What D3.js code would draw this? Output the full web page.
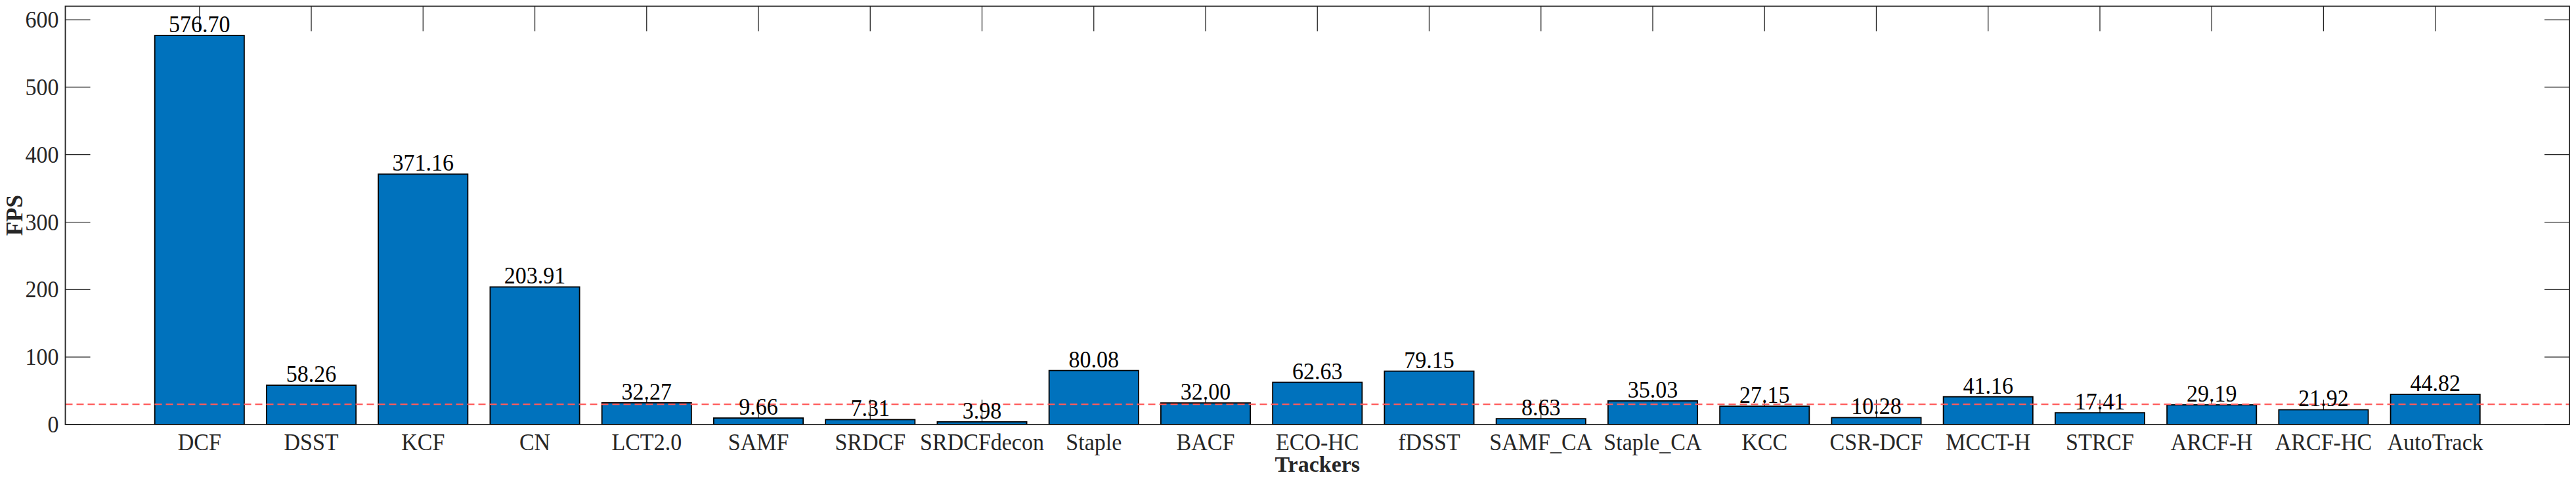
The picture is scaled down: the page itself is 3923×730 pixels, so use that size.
<!DOCTYPE html>
<html>
<head>
<meta charset="utf-8">
<script src="https://cdn.jsdelivr.net/npm/d3@7"></script>
<style>
  html, body { margin: 0; padding: 0; background: #fff; }
  svg { display: block; }
  text { font-family: "Liberation Serif", "Times New Roman", serif; }
</style>
</head>
<body>
<svg id="chart" width="3923" height="730"></svg>
<script>
const trackers = ["DCF","DSST","KCF","CN","LCT2.0","SAMF","SRDCF","SRDCFdecon","Staple","BACF","ECO-HC","fDSST","SAMF_CA","Staple_CA","KCC","CSR-DCF","MCCT-H","STRCF","ARCF-H","ARCF-HC","AutoTrack"];
const fps = [576.70,58.26,371.16,203.91,32.27,9.66,7.31,3.98,80.08,32.00,62.63,79.15,8.63,35.03,27.15,10.28,41.16,17.41,29.19,21.92,44.82];
const yTicks = [0,100,200,300,400,500,600];
const realTimeLine = 30;
const yMax = 620;

const W = 3923, H = 730;
const m = {left: 99.5, right: 3913, top: 9.5, bottom: 647};
const svg = d3.select("#chart");
svg.append("rect").attr("width", W).attr("height", H).attr("fill", "#fff");

const x = d3.scaleLinear().domain([-0.2, trackers.length + 1.2]).range([m.left, m.right]);
const y = d3.scaleLinear().domain([0, yMax]).range([m.bottom, m.top]);
const barW = 0.8;
const tickLen = 38;
const axisColor = "#262626";
const fs = 34;
const sy = 1.05;

function stretched(sel, xf, yf) {
  return sel.attr("transform", (d, i) => `translate(${xf(d, i)},${yf(d, i)}) scale(1,${sy})`);
}

const g = svg.append("g");

// ticks (under the bars)
const ticksG = g.append("g").attr("stroke", axisColor).attr("stroke-width", 1.3);
trackers.forEach((t, i) => {
  const xx = x(i + 1);
  ticksG.append("line").attr("x1", xx).attr("x2", xx).attr("y1", m.bottom).attr("y2", m.bottom - tickLen);
  ticksG.append("line").attr("x1", xx).attr("x2", xx).attr("y1", m.top).attr("y2", m.top + tickLen);
});
yTicks.forEach(v => {
  const yy = y(v);
  ticksG.append("line").attr("x1", m.left).attr("x2", m.left + tickLen).attr("y1", yy).attr("y2", yy);
  ticksG.append("line").attr("x1", m.right).attr("x2", m.right - tickLen).attr("y1", yy).attr("y2", yy);
});

// bars
g.append("g").selectAll("rect").data(fps).join("rect")
  .attr("x", (d, i) => x(i + 1 - barW / 2))
  .attr("width", (d, i) => x(i + 1 + barW / 2) - x(i + 1 - barW / 2))
  .attr("y", d => y(d))
  .attr("height", d => y(0) - y(d))
  .attr("fill", "#0072BD")
  .attr("stroke", "#000")
  .attr("stroke-width", 1.8);

// dashed real-time line
g.append("line")
  .attr("x1", m.left).attr("x2", m.right)
  .attr("y1", y(realTimeLine)).attr("y2", y(realTimeLine))
  .attr("stroke", "rgb(255,90,90)").attr("stroke-width", 2.4)
  .attr("stroke-dasharray", "11,6");

// value labels
stretched(g.append("g").selectAll("text").data(fps).join("text"),
  (d, i) => x(i + 1), d => y(d) - 5)
  .attr("text-anchor", "middle")
  .attr("font-size", fs)
  .attr("fill", "#000")
  .text(d => d.toFixed(2));

// box
g.append("rect")
  .attr("x", m.left).attr("y", m.top)
  .attr("width", m.right - m.left).attr("height", m.bottom - m.top)
  .attr("fill", "none").attr("stroke", axisColor).attr("stroke-width", 1.8);

// y tick labels
stretched(g.append("g").selectAll("text").data(yTicks).join("text"),
  () => m.left - 10, d => y(d) + 12)
  .attr("text-anchor", "end")
  .attr("font-size", fs)
  .attr("fill", axisColor)
  .text(d => d);

// x tick labels
stretched(g.append("g").selectAll("text").data(trackers).join("text"),
  (d, i) => x(i + 1), () => m.bottom + 39)
  .attr("text-anchor", "middle")
  .attr("font-size", fs)
  .attr("fill", axisColor)
  .text(d => d);

// axis labels
g.append("text")
  .attr("x", (m.left + m.right) / 2)
  .attr("y", 719)
  .attr("text-anchor", "middle")
  .attr("font-size", 34)
  .attr("font-weight", "bold")
  .attr("fill", axisColor)
  .text("Trackers");

g.append("text")
  .attr("transform", `translate(34,${(m.top + m.bottom) / 2}) rotate(-90)`)
  .attr("text-anchor", "middle")
  .attr("font-size", 35)
  .attr("font-weight", "bold")
  .attr("fill", axisColor)
  .text("FPS");
</script>
</body>
</html>
